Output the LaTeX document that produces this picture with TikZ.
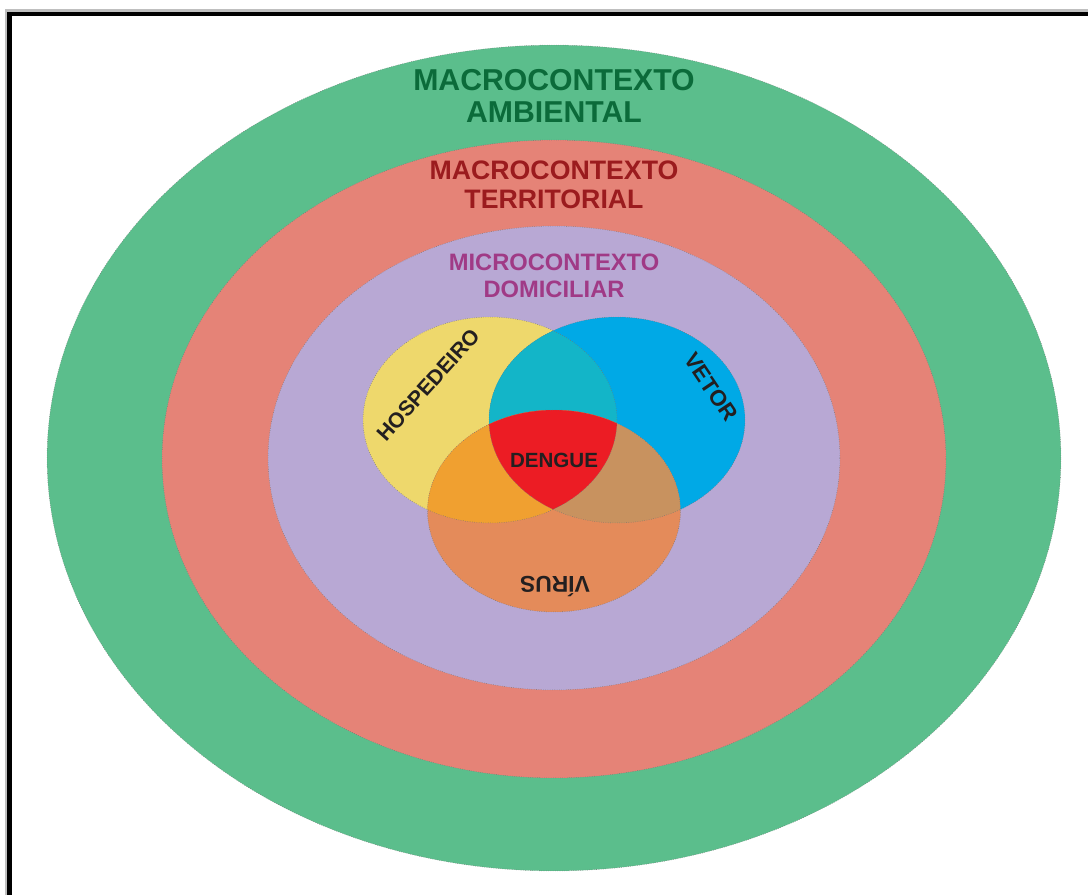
\documentclass[tikz,border=0pt]{standalone}
\usepackage{fontspec}
\setmainfont{Liberation Sans}
\definecolor{cgreen}{HTML}{5BBE8C}
\definecolor{cred}{HTML}{E58377}
\definecolor{cpurple}{HTML}{B8A8D4}
\definecolor{cyellow}{HTML}{EED86C}
\definecolor{cblue}{HTML}{00A9E6}
\definecolor{corange}{HTML}{E48B5A}
\definecolor{cyo}{HTML}{F0A030}
\definecolor{cbo}{HTML}{C8925F}
\definecolor{cyb}{HTML}{13B5C8}
\definecolor{cdengue}{HTML}{EC1C24}
\definecolor{tgreen}{HTML}{0B6B3A}
\definecolor{tred}{HTML}{9B1B1E}
\definecolor{tpurple}{HTML}{A03A86}
\definecolor{tdark}{HTML}{231F20}
\tikzset{
  ring/.style={draw=black!55, line width=0.3pt, densely dotted},
  lbl/.style={font=\bfseries, align=center, inner sep=0pt},
}
\begin{document}
\begin{tikzpicture}[x=0.02cm, y=-0.02cm]
\useasboundingbox (0,0) rectangle (1088,895);
\fill[white] (0,0) rectangle (1088,895);
% frame with shadow
\draw[black!25, line width=2pt] (6.5,900) -- (6.5,10.5) -- (1095,10.5);
\draw[black, line width=2.3pt] (9.5,900) -- (9.5,14) -- (1095,14);
% contexts
\fill[cgreen] (554,458) ellipse [x radius=10.14cm, y radius=8.26cm];
\draw[ring] (554,458) ellipse [x radius=10.14cm, y radius=8.26cm];
\fill[cred] (554,459) ellipse [x radius=7.84cm, y radius=6.38cm];
\draw[ring] (554,459) ellipse [x radius=7.84cm, y radius=6.38cm];
\fill[cpurple] (554,458) ellipse [x radius=5.72cm, y radius=4.64cm];
\draw[ring] (554,458) ellipse [x radius=5.72cm, y radius=4.64cm];
% venn
\def\ellY{(490,420) ellipse [x radius=2.54cm, y radius=2.06cm]}
\def\ellB{(617,420) ellipse [x radius=2.56cm, y radius=2.06cm]}
\def\ellO{(554,511) ellipse [x radius=2.53cm, y radius=2.02cm]}
\fill[cyellow] \ellY;
\fill[cblue] \ellB;
\fill[corange] \ellO;
\begin{scope}
  \clip \ellY;
  \fill[cyb] \ellB;
  \fill[cyo] \ellO;
  \clip \ellB;
  \fill[cdengue] \ellO;
\end{scope}
\begin{scope}
  \clip \ellB;
  \clip \ellO;
  \fill[cbo] \ellY;
  \fill[cbo] \ellO;
\end{scope}
\begin{scope}
  \clip \ellB; \clip \ellO; \clip \ellY;
  \fill[cdengue] \ellO;
\end{scope}
\draw[ring] \ellY;
\draw[ring] \ellB;
\draw[ring] \ellO;
% labels
\node[lbl, text=tgreen, font=\bfseries\fontsize{17.2}{18.7}\selectfont] (amb) at (554,96) {MACROCONTEXTO\\AMBIENTAL};
\node[lbl, text=tred, font=\bfseries\fontsize{15.2}{16.4}\selectfont] (ter) at (554,185) {MACROCONTEXTO\\TERRITORIAL};
\node[lbl, text=tpurple, font=\bfseries\fontsize{13.5}{15.3}\selectfont] (dom) at (554,276) {MICROCONTEXTO\\DOMICILIAR};
\node[lbl, text=tdark, font=\bfseries\fontsize{12.1}{14}\selectfont, rotate=48] (hos) at (428,385) {HOSPEDEIRO};
\node[lbl, text=tdark, font=\bfseries\fontsize{12.7}{14}\selectfont, rotate=-56] (vet) at (711,387) {VETOR};
\node[lbl, text=tdark, font=\bfseries\fontsize{11.7}{14}\selectfont] (den) at (554,460) {DENGUE};
\node[lbl, text=tdark, font=\bfseries\fontsize{13}{14}\selectfont, rotate=180] (vir) at (555,587) {VÍRUS};
\end{tikzpicture}
\end{document}
